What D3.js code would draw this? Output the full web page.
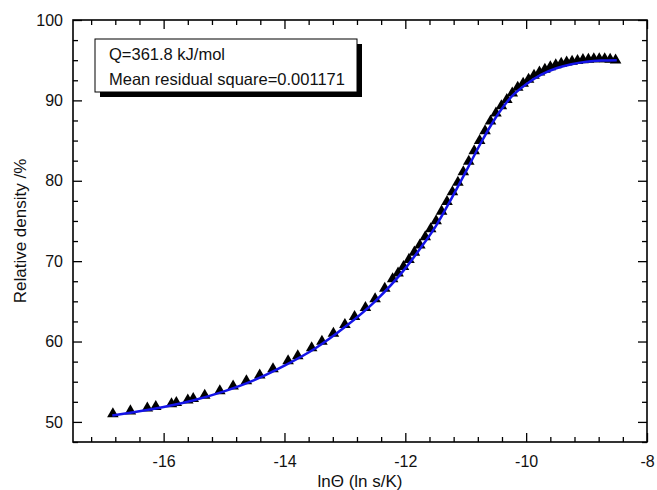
<!DOCTYPE html>
<html>
<head>
<meta charset="utf-8">
<script src="https://cdn.jsdelivr.net/npm/d3@7"></script>
<style>
  body { margin: 0; background: #fff; }
  svg { display: block; font-family: "Liberation Sans", Arial, sans-serif; }
</style>
</head>
<body>
<div id="chart"></div>
<script>
// measured relative density (triangles)
const measuredX = [-16.84, -16.55, -16.27, -16.13, -15.87, -15.79, -15.60, -15.51, -15.32, -15.07,
  -14.85, -14.63, -14.41, -14.19, -13.94, -13.78, -13.55, -13.38, -13.19, -13.00,
  -12.84, -12.66, -12.50, -12.34, -12.21, -12.12, -12.03, -11.94, -11.85, -11.76,
  -11.67, -11.58, -11.49, -11.40, -11.31, -11.22, -11.13, -11.04, -10.95, -10.86,
  -10.77, -10.68, -10.59, -10.50, -10.41, -10.32, -10.23, -10.14, -10.05, -9.96,
  -9.87, -9.78, -9.69, -9.60, -9.51, -9.42, -9.33, -9.24, -9.15, -9.06,
  -8.97, -8.88, -8.79, -8.70, -8.61, -8.52];
const measuredY = [51.0, 51.35, 51.7, 51.9, 52.25, 52.4, 52.7, 52.9, 53.3, 53.85,
  54.45, 55.1, 55.8, 56.6, 57.6, 58.2, 59.2, 60.0, 61.0, 62.1,
  63.1, 64.2, 65.3, 66.6, 67.8, 68.5, 69.3, 70.2, 71.1, 72.0,
  73.0, 74.0, 75.0, 76.2, 77.4, 78.6, 79.8, 81.1, 82.4, 83.7,
  85.0, 86.2, 87.4, 88.4, 89.3, 90.1, 90.9, 91.6, 92.1, 92.6,
  93.1, 93.5, 93.85, 94.15, 94.4, 94.6, 94.75, 94.85, 94.95, 95.05,
  95.1, 95.15, 95.15, 95.15, 95.1, 95.0];

// master sintering curve fit (blue line)
const fitX = [-16.85, -16.5, -16.0, -15.5, -15.0, -14.5, -14.0, -13.5, -13.0, -12.5,
  -12.0, -11.75, -11.5, -11.25, -11.0, -10.75, -10.5, -10.25, -10.0, -9.75,
  -9.5, -9.25, -9.0, -8.75, -8.5];
const fitY = [50.8, 51.2, 51.85, 52.7, 53.8, 55.2, 57.0, 59.1, 61.8, 65.0,
  69.1, 71.6, 74.3, 77.6, 81.1, 84.7, 87.9, 90.4, 92.0, 93.2,
  94.0, 94.5, 94.8, 94.95, 95.0];

const xTicks = [-16, -14, -12, -10, -8];
const yTicks = [50, 60, 70, 80, 90, 100];
const legendLines = ["Q=361.8 kJ/mol", "Mean residual square=0.001171"];

const W = 657, H = 490;
const margin = {top: 20, right: 10, bottom: 48, left: 73};
const width = W - margin.left - margin.right;
const height = H - margin.top - margin.bottom;

const svg = d3.select('#chart').append('svg')
  .attr('width', W)
  .attr('height', H);

const g = svg.append('g')
  .attr('transform', `translate(${margin.left},${margin.top})`);

const x = d3.scaleLinear().domain([-17.5, -8]).range([0, width]);
const y = d3.scaleLinear().domain([47.5, 100]).range([height, 0]);

const xMinor = d3.range(-17.2, -8.01, 0.4).filter(v => Math.abs(v / 2 - Math.round(v / 2)) > 0.01);
const yMinor = d3.range(47.5, 100.01, 2.5).filter(v => v % 10 !== 0);

// ticks point inwards on all four sides
function drawAxis(axisFn, scale, ticks, size, labels, transform) {
  const a = axisFn(scale).tickValues(ticks).tickSizeInner(-size).tickSizeOuter(0);
  if (labels) a.tickPadding(labels).tickFormat(d => String(d));
  else a.tickFormat('');
  const ag = g.append('g').attr('transform', transform).call(a);
  ag.select('.domain').remove();
  ag.selectAll('.tick line').attr('stroke', '#000').attr('stroke-width', 1.3);
  ag.selectAll('text').attr('fill', '#111').style('font-size', '16px');
  return ag;
}

drawAxis(d3.axisBottom, x, xTicks, 9, 14, `translate(0,${height})`);
drawAxis(d3.axisBottom, x, xMinor, 5, 0, `translate(0,${height})`);
drawAxis(d3.axisTop, x, xTicks, 9, 0, 'translate(0,0)');
drawAxis(d3.axisTop, x, xMinor, 5, 0, 'translate(0,0)');
drawAxis(d3.axisLeft, y, yTicks, 9, 10, 'translate(0,0)');
drawAxis(d3.axisLeft, y, yMinor, 5, 0, 'translate(0,0)');
drawAxis(d3.axisRight, y, yTicks, 9, 0, `translate(${width},0)`);
drawAxis(d3.axisRight, y, yMinor, 5, 0, `translate(${width},0)`);

g.append('rect')
  .attr('width', width)
  .attr('height', height)
  .attr('fill', 'none')
  .attr('stroke', '#000')
  .attr('stroke-width', 1.6);

// legend box with drop shadow
const box = {x: 95 - margin.left, y: 39 - margin.top, w: 262, h: 53};
g.append('rect')
  .attr('x', box.x + 5).attr('y', box.y + 5)
  .attr('width', box.w).attr('height', box.h)
  .attr('fill', '#000');
g.append('rect')
  .attr('x', box.x).attr('y', box.y)
  .attr('width', box.w).attr('height', box.h)
  .attr('fill', '#fff')
  .attr('stroke', '#000')
  .attr('stroke-width', 1);
g.selectAll('.legend-text')
  .data(legendLines)
  .join('text')
  .attr('class', 'legend-text')
  .attr('x', box.x + 14)
  .attr('y', (d, i) => box.y + 21 + i * 25)
  .style('font-size', '16.5px')
  .attr('fill', '#111')
  .text(d => d);

// data
const points = measuredX.map((v, i) => ({x: v, y: measuredY[i]}));
const fit = fitX.map((v, i) => ({x: v, y: fitY[i]}));

g.append('g')
  .selectAll('path')
  .data(points)
  .join('path')
  .attr('d', d3.symbol(d3.symbolTriangle, 58))
  .attr('transform', d => `translate(${x(d.x)},${y(d.y)})`)
  .attr('fill', '#000');

g.append('path')
  .datum(fit)
  .attr('fill', 'none')
  .attr('stroke', '#1414e8')
  .attr('stroke-width', 2.5)
  .attr('d', d3.line().x(d => x(d.x)).y(d => y(d.y)).curve(d3.curveMonotoneX));

// axis titles
svg.append('text')
  .attr('x', margin.left + width / 2)
  .attr('y', 487)
  .attr('text-anchor', 'middle')
  .style('font-size', '17px')
  .attr('fill', '#111')
  .text('lnΘ (ln s/K)');

svg.append('text')
  .attr('transform', `translate(26,${margin.top + height / 2}) rotate(-90)`)
  .attr('text-anchor', 'middle')
  .style('font-size', '17px')
  .attr('fill', '#111')
  .text('Relative density /%');
</script>
</body>
</html>
